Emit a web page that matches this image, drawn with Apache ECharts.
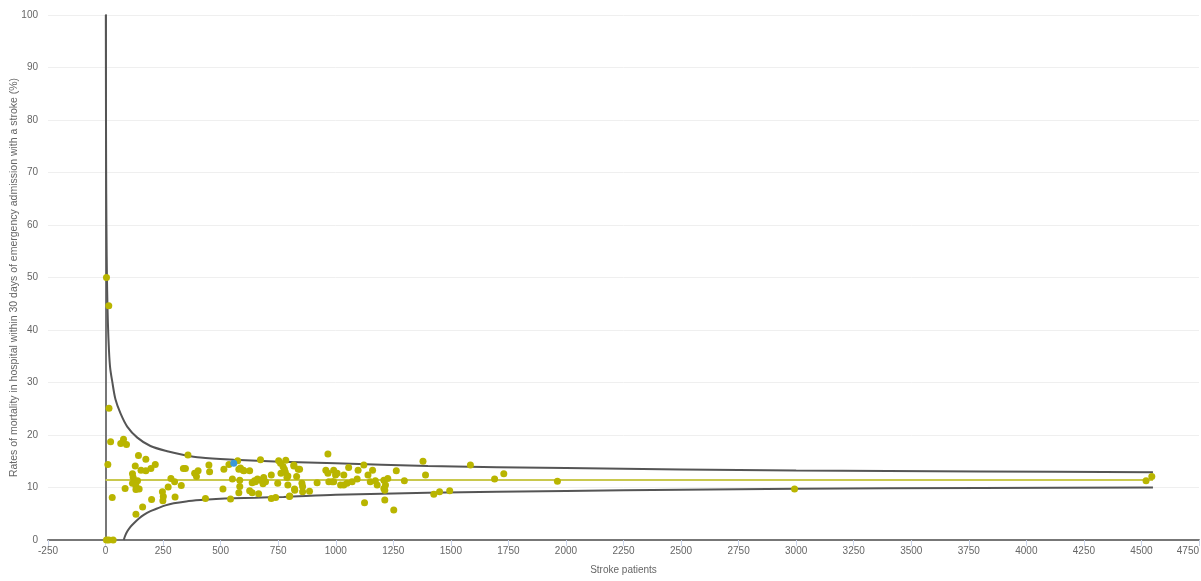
<!DOCTYPE html>
<html>
<head>
<meta charset="utf-8">
<title>Stroke mortality funnel plot</title>
<script src="https://cdn.jsdelivr.net/npm/echarts@6/dist/echarts.min.js"></script>
<style>
  html, body { margin: 0; padding: 0; background: #fff; overflow: hidden; }
  #chart { width: 1201px; height: 581px; }
</style>
</head>
<body>
<div id="chart"></div>
<script>
// hospitals: [stroke patients, mortality rate %]
const hospitals = [
  [4, 50], [14, 44.6], [15, 25.1], [4, 0], [14, 0], [33, 0], [10, 14.4], [22, 18.7],
  [29, 8.1], [66, 18.4], [78, 19.2], [91, 18.2], [85, 9.8], [117, 12.6], [120, 11.9],
  [139, 11.3], [117, 10.8], [132, 10.3], [146, 9.7], [132, 9.6], [143, 16.1], [175, 15.4],
  [129, 14.1], [154, 13.3], [175, 13.2], [197, 13.6], [216, 14.4], [132, 4.9], [161, 6.3],
  [200, 7.7], [249, 7.5], [251, 8.3], [247, 9.2], [272, 10.1], [284, 11.7], [300, 11.1],
  [302, 8.2], [329, 10.4], [358, 16.2], [338, 13.6], [347, 13.6], [387, 12.7], [395, 12.1],
  [402, 13.2], [434, 7.9], [449, 14.3], [452, 13.0],
  [510, 9.7], [514, 13.5], [536, 14.4], [543, 7.8], [551, 11.6], [574, 15.1], [579, 13.5],
  [583, 11.4], [583, 10.2], [579, 9.0], [586, 13.7], [598, 13.3], [601, 13.2], [626, 13.2],
  [626, 9.4], [637, 9.0], [637, 10.9], [647, 11.3], [651, 11.1], [660, 11.6], [665, 8.8],
  [673, 15.3], [673, 11.4], [684, 10.7], [687, 11.9], [695, 11.1], [720, 12.4], [720, 7.9],
  [739, 8.1], [748, 10.8], [752, 15.1], [760, 14.6], [762, 12.7], [771, 14.0], [777, 13.5],
  [783, 15.2], [781, 12.9], [788, 11.9], [792, 10.5], [792, 12.2], [800, 8.4], [818, 14.1],
  [821, 9.7], [830, 12.1], [843, 13.5],
  [966, 16.4], [818, 14.3], [837, 13.5], [853, 10.8], [856, 10.2], [822, 9.5], [856, 9.2],
  [886, 9.3], [799, 8.3], [919, 10.9], [957, 13.3], [966, 12.7], [991, 13.3], [999, 12.4],
  [1006, 12.7], [970, 11.1], [984, 11.1], [991, 11.1], [1021, 10.5], [1035, 10.5],
  [1049, 10.8], [1035, 12.4], [1056, 13.8], [1071, 11.1], [1093, 11.6], [1097, 13.3],
  [1122, 14.3], [1140, 12.4], [1150, 11.1], [1160, 13.3], [1172, 11.3], [1180, 10.5],
  [1125, 7.1], [1216, 10.5], [1213, 9.5], [1213, 7.6],
  [1379, 15.0], [1585, 14.3], [1263, 13.2], [1390, 12.4], [1209, 11.4], [1226, 11.7],
  [1298, 11.3], [1209, 9.8], [1252, 5.7], [1426, 8.7], [1451, 9.2], [1495, 9.4],
  [1690, 11.6], [1730, 12.6], [1963, 11.2], [2993, 9.7], [4520, 11.3], [4545, 12.1]
];

// the highlighted hospital
const selected = [[557, 14.6]];

// national average
const meanN = [0, 4550];
const meanRate = [11.43, 11.43];

// control limits
const upperN = [1.2, 2, 3, 5, 7, 10, 15, 20, 29, 43, 65, 94, 138, 195, 268, 340, 412, 557, 760, 1000, 1400, 2000, 2500, 3000, 3800, 4550];
const upperRate = [100, 79, 66, 54, 47.5, 41.6, 36, 32.8, 30.2, 26.8, 24.1, 21.6, 19.5, 17.9, 16.9, 16.2, 15.7, 15.3, 14.9, 14.6, 14.1, 13.7, 13.45, 13.25, 13.05, 12.9];
const lowerN = [79, 85, 94, 108, 123, 145, 166, 195, 224, 260, 296, 350, 412, 480, 557, 650, 774, 1000, 1400, 2000, 2500, 3000, 3800, 4550];
const lowerRate = [0, 0.8, 1.6, 2.5, 3.2, 4.1, 4.8, 5.5, 6.0, 6.6, 7.0, 7.35, 7.6, 7.8, 7.95, 8.05, 8.2, 8.6, 9.0, 9.35, 9.55, 9.75, 9.9, 10.0];

const pairs = (xs, ys) => xs.map((x, i) => [x, ys[i]]);

const font = 'Liberation Sans, Arial, sans-serif';
const labelStyle = { color: '#666', fontSize: 10, fontFamily: font };

const chart = echarts.init(document.getElementById('chart'), null, { renderer: 'canvas' });

chart.setOption({
  animation: false,
  grid: { left: 48, right: 2, top: 15, bottom: 41, outerBoundsMode: 'none', containLabel: false },
  xAxis: {
    type: 'value',
    min: -250,
    max: 4750,
    interval: 250,
    name: 'Stroke patients',
    nameLocation: 'middle',
    nameGap: 25,
    nameMoveOverlap: false,
    nameTextStyle: labelStyle,
    axisLine: { show: true, onZero: false, lineStyle: { color: '#777', width: 2 } },
    axisTick: { show: true, length: 6, lineStyle: { color: '#ccd6eb' } },
    axisLabel: Object.assign({ margin: 6, alignMaxLabel: 'right', formatter: v => String(v) }, labelStyle),
    splitLine: { show: false }
  },
  yAxis: {
    type: 'value',
    min: 0,
    max: 100,
    interval: 10,
    name: 'Rates of mortality in hospital within 30 days of emergency admission with a stroke (%)',
    nameLocation: 'middle',
    nameGap: 28,
    nameRotate: 90,
    nameMoveOverlap: false,
    nameTextStyle: { color: '#666', fontSize: 10.5, fontFamily: font },
    axisLine: { show: true, lineStyle: { color: '#777', width: 2 } },
    axisTick: { show: false },
    axisLabel: Object.assign({ margin: 10 }, labelStyle),
    splitLine: { lineStyle: { color: '#efefef' } }
  },
  series: [
    {
      name: 'Upper limit',
      type: 'line',
      data: pairs(upperN, upperRate),
      smooth: 0.3,
      showSymbol: false,
      clip: true,
      lineStyle: { color: '#555', width: 2 },
      z: 2
    },
    {
      name: 'Lower limit',
      type: 'line',
      data: pairs(lowerN, lowerRate),
      smooth: 0.3,
      showSymbol: false,
      clip: true,
      lineStyle: { color: '#555', width: 2 },
      z: 2
    },
    {
      name: 'Average',
      type: 'line',
      data: pairs(meanN, meanRate),
      showSymbol: false,
      lineStyle: { color: '#c9c84e', width: 2 },
      z: 3
    },
    {
      name: 'Hospitals',
      type: 'scatter',
      data: hospitals,
      symbolSize: 7,
      itemStyle: { color: '#b9b500', opacity: 1 },
      z: 4
    },
    {
      name: 'Selected',
      type: 'scatter',
      data: selected,
      symbolSize: 7,
      itemStyle: { color: '#3a98d8', opacity: 1 },
      z: 5
    }
  ]
});

window.addEventListener('resize', () => chart.resize());
</script>
</body>
</html>
